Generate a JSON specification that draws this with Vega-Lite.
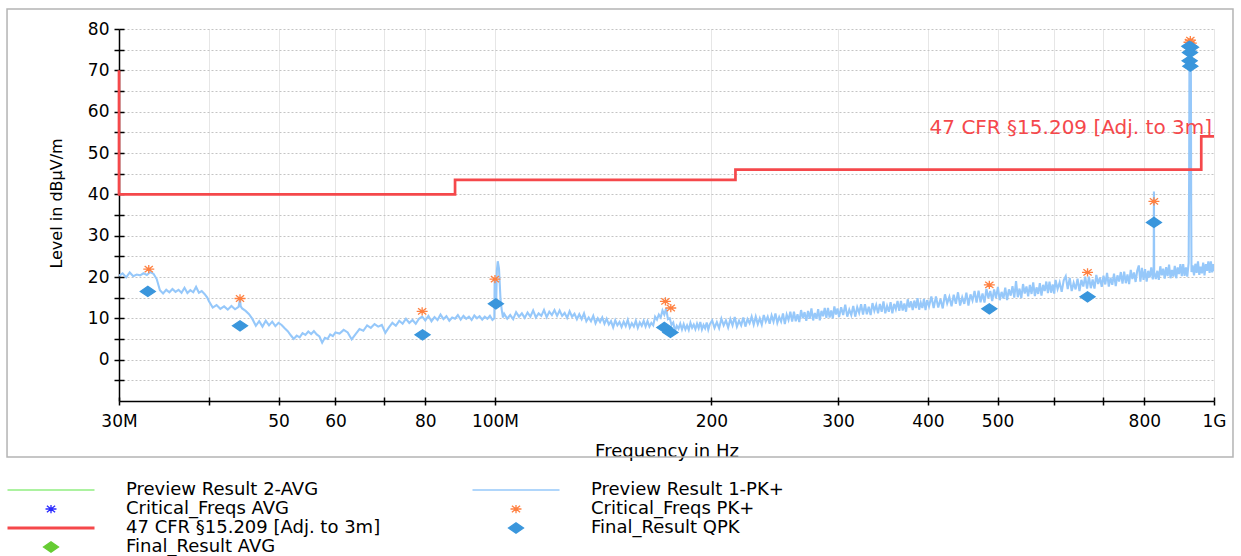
{
"$schema": "https://vega.github.io/schema/vega-lite/v6.json",
"width": 1095, "height": 372,
"autosize": {"type": "none"},
"padding": {"left": 119, "top": 29, "right": 27, "bottom": 155},
"background": "white",
"datasets": {
"trace": [
{"freq":30,"level":20.3},{"freq":30.35,"level":20.9},{"freq":30.7,"level":19.9},{"freq":31.05,"level":21.1},{"freq":31.4,"level":20.2},{"freq":31.75,"level":20.6},{"freq":32.1,"level":20.4},{"freq":32.45,"level":20.9},{"freq":32.8,"level":20.5},{"freq":33.15,"level":21.2},{"freq":33.5,"level":20.8},{"freq":33.85,"level":19.5},{"freq":34.2,"level":16.8},{"freq":34.55,"level":16.0},{"freq":34.9,"level":16.9},{"freq":35.25,"level":16.3},{"freq":35.6,"level":17.1},{"freq":35.95,"level":16.4},{"freq":36.3,"level":16.9},{"freq":36.65,"level":16.2},{"freq":37.0,"level":17.4},{"freq":37.35,"level":16.1},{"freq":37.7,"level":16.8},{"freq":38.05,"level":16.3},{"freq":38.4,"level":17.6},{"freq":38.75,"level":16.2},{"freq":39.1,"level":16.6},{"freq":39.45,"level":15.9},{"freq":39.8,"level":15.0},
{"freq":40.0,"level":14.2},{"freq":40.5,"level":12.6},{"freq":41.0,"level":13.2},{"freq":41.5,"level":12.3},{"freq":42.0,"level":12.9},{"freq":42.5,"level":12.1},{"freq":43.0,"level":13.0},{"freq":43.5,"level":12.2},{"freq":44.0,"level":12.8},{"freq":44.2,"level":14.6},{"freq":44.3,"level":12.9},{"freq":44.5,"level":12.4},{"freq":45.0,"level":11.8},{"freq":45.5,"level":11.0},{"freq":46.0,"level":9.8},{"freq":46.5,"level":8.2},{"freq":47.0,"level":9.3},{"freq":47.5,"level":8.0},{"freq":48.0,"level":9.4},{"freq":48.5,"level":8.3},{"freq":49.0,"level":9.2},{"freq":49.5,"level":8.1},{"freq":50.0,"level":8.9},{"freq":50.5,"level":8.4},{"freq":51.0,"level":7.6},{"freq":51.5,"level":6.9},{"freq":52.0,"level":5.9},{"freq":52.5,"level":5.0},{"freq":53.0,"level":5.8},{"freq":53.5,"level":5.4},{"freq":54.0,"level":6.4},{"freq":54.5,"level":6.0},{"freq":55.0,"level":6.8},{"freq":55.5,"level":6.2},{"freq":56.0,"level":6.9},{"freq":56.5,"level":6.1},{"freq":57.0,"level":5.6},{"freq":57.5,"level":4.1},{"freq":58.0,"level":5.3},{"freq":58.5,"level":5.0},{"freq":59.0,"level":6.1},{"freq":59.5,"level":5.7},{"freq":60.0,"level":6.6},
{"freq":60.8,"level":6.3},{"freq":61.6,"level":7.2},{"freq":62.4,"level":6.6},{"freq":63.2,"level":4.9},{"freq":64.0,"level":6.2},{"freq":64.8,"level":7.4},{"freq":65.6,"level":7.0},{"freq":66.4,"level":8.3},{"freq":67.2,"level":7.7},{"freq":68.0,"level":8.6},{"freq":68.8,"level":8.0},{"freq":69.6,"level":8.4},{"freq":70.4,"level":6.5},{"freq":71.2,"level":7.8},{"freq":72.0,"level":8.9},{"freq":72.8,"level":8.2},{"freq":73.6,"level":9.4},{"freq":74.4,"level":8.7},{"freq":75.2,"level":9.9},{"freq":76.0,"level":8.9},{"freq":76.8,"level":9.6},{"freq":77.6,"level":8.7},{"freq":78.4,"level":9.9},{"freq":79.2,"level":10.4},{"freq":80.0,"level":9.5},{"freq":80.8,"level":10.6},{"freq":81.6,"level":9.3},{"freq":82.4,"level":10.3},{"freq":83.2,"level":9.6},{"freq":84.0,"level":10.9},{"freq":84.8,"level":9.8},{"freq":85.6,"level":10.5},{"freq":86.4,"level":9.4},{"freq":87.2,"level":10.2},{"freq":88.0,"level":9.9},{"freq":88.8,"level":10.8},{"freq":89.6,"level":9.7},{"freq":90.4,"level":10.6},{"freq":91.2,"level":9.9},{"freq":92.0,"level":10.4},{"freq":92.8,"level":9.6},{"freq":93.6,"level":10.7},{"freq":94.4,"level":10.0},{"freq":95.2,"level":10.5},{"freq":96.0,"level":9.7},{"freq":96.8,"level":10.4},{"freq":97.6,"level":9.9},{"freq":98.4,"level":10.6},{"freq":99.2,"level":9.6},
{"freq":99.8,"level":10.0},{"freq":99.9,"level":19.5},{"freq":100.1,"level":13.0},{"freq":100.4,"level":14.0},{"freq":100.6,"level":21.5},{"freq":100.9,"level":23.8},{"freq":101.3,"level":22.0},{"freq":101.8,"level":14.5},{"freq":102.2,"level":12.0},{"freq":102.6,"level":10.2},
{"freq":103,"level":11.1},{"freq":104,"level":9.9},{"freq":105,"level":10.8},{"freq":106,"level":9.8},{"freq":107,"level":11.5},{"freq":108,"level":10.4},{"freq":109,"level":11.2},{"freq":110,"level":10.1},{"freq":111,"level":11.4},{"freq":112,"level":10.4},{"freq":113,"level":11.9},{"freq":114,"level":10.2},{"freq":115,"level":11.2},{"freq":116,"level":10.6},{"freq":117,"level":12.0},{"freq":118,"level":10.3},{"freq":119,"level":11.6},{"freq":120,"level":10.8},{"freq":121,"level":12.0},{"freq":122,"level":10.6},{"freq":123,"level":11.9},{"freq":124,"level":10.6},{"freq":125,"level":11.3},{"freq":126,"level":10.1},{"freq":127,"level":11.7},{"freq":128,"level":10.4},{"freq":129,"level":11.1},{"freq":130,"level":9.8},{"freq":131,"level":11.0},{"freq":132,"level":9.8},{"freq":133,"level":11.2},{"freq":134,"level":9.3},{"freq":135,"level":10.2},{"freq":136,"level":9.3},{"freq":137,"level":10.6},{"freq":138,"level":8.8},{"freq":139,"level":10.0},{"freq":140,"level":9.1},{"freq":141,"level":10.2},{"freq":142,"level":8.7},{"freq":143,"level":9.9},{"freq":144,"level":8.5},{"freq":145,"level":9.3},{"freq":146,"level":7.8},{"freq":147,"level":9.5},{"freq":148,"level":8.3},{"freq":149,"level":9.1},{"freq":150,"level":7.9},{"freq":151,"level":9.2},{"freq":152,"level":8.1},{"freq":153,"level":9.6},{"freq":154,"level":7.8},{"freq":155,"level":8.8},{"freq":156,"level":8.0},{"freq":157,"level":9.4},{"freq":158,"level":7.7},{"freq":159,"level":9.0},{"freq":160,"level":8.2},{"freq":161,"level":9.4},{"freq":162,"level":8.0},{"freq":163,"level":9.3},{"freq":164,"level":8.0},{"freq":165,"level":8.9},{"freq":166,"level":8.3},{"freq":167,"level":10.4},{"freq":168,"level":9.7},{"freq":169,"level":10.9},{"freq":170,"level":10.2},{"freq":171,"level":11.9},{"freq":172,"level":10.9},{"freq":173,"level":12.4},{"freq":174,"level":9.8},{"freq":175,"level":10.0},{"freq":176,"level":8.4},{"freq":177,"level":9.0},{"freq":178,"level":6.9},{"freq":179,"level":8.2},{"freq":180,"level":7.5},{"freq":181,"level":8.7},{"freq":182,"level":7.3},{"freq":183,"level":8.6},{"freq":184,"level":7.3},{"freq":185,"level":8.3},{"freq":186,"level":7.2},{"freq":187,"level":8.9},{"freq":188,"level":7.7},{"freq":189,"level":8.5},{"freq":190,"level":7.4},{"freq":191,"level":8.7},{"freq":192,"level":7.6},{"freq":193,"level":9.1},{"freq":194,"level":7.3},{"freq":195,"level":8.4},{"freq":196,"level":7.6},{"freq":197,"level":9.0},{"freq":198,"level":7.3},{"freq":199,"level":8.6},
{"freq":200.5,"level":9.5},{"freq":202,"level":7.7},{"freq":203.5,"level":9.1},{"freq":205,"level":7.6},{"freq":206.5,"level":9.9},{"freq":208,"level":8.3},{"freq":209.5,"level":9.5},{"freq":211,"level":7.8},{"freq":212.5,"level":9.8},{"freq":214,"level":8.3},{"freq":215.5,"level":10.3},{"freq":217,"level":8.0},{"freq":218.5,"level":9.4},{"freq":220,"level":8.3},{"freq":221.5,"level":10.2},{"freq":223,"level":8.0},{"freq":224.5,"level":9.8},{"freq":226,"level":8.8},{"freq":227.5,"level":10.4},{"freq":229,"level":8.5},{"freq":230.5,"level":10.4},{"freq":232,"level":8.6},{"freq":233.5,"level":10.0},{"freq":235,"level":8.5},{"freq":236.5,"level":10.8},{"freq":238,"level":9.2},{"freq":239.5,"level":10.4},{"freq":241,"level":8.7},{"freq":242.5,"level":10.7},{"freq":244,"level":9.2},{"freq":245.5,"level":11.2},{"freq":247,"level":8.9},{"freq":248.5,"level":10.3},{"freq":250,"level":9.2},{"freq":251.5,"level":11.2},{"freq":253,"level":8.6},{"freq":254.5,"level":10.9},{"freq":256,"level":9.6},{"freq":257.5,"level":11.6},{"freq":259,"level":9.2},{"freq":260.5,"level":11.6},{"freq":262,"level":9.3},{"freq":263.5,"level":11.0},{"freq":265,"level":9.1},{"freq":266.5,"level":12.0},{"freq":268,"level":10.0},{"freq":269.5,"level":11.5},{"freq":271,"level":9.4},{"freq":272.5,"level":11.8},{"freq":274,"level":9.9},{"freq":275.5,"level":12.4},{"freq":277,"level":9.5},{"freq":278.5,"level":11.3},{"freq":280,"level":9.9},{"freq":281.5,"level":12.2},{"freq":283,"level":9.5},{"freq":284.5,"level":11.8},{"freq":286,"level":10.5},{"freq":287.5,"level":12.5},{"freq":289,"level":10.1},{"freq":290.5,"level":12.5},{"freq":292,"level":10.2},{"freq":293.5,"level":11.9},{"freq":295,"level":10.0},{"freq":296.5,"level":12.9},{"freq":298,"level":10.9},{"freq":299.5,"level":12.4},
{"freq":301,"level":10.3},{"freq":303,"level":12.7},{"freq":305,"level":10.8},{"freq":307,"level":13.3},{"freq":309,"level":10.4},{"freq":311,"level":12.1},{"freq":313,"level":10.8},{"freq":315,"level":13.0},{"freq":317,"level":10.4},{"freq":319,"level":12.7},{"freq":321,"level":11.3},{"freq":323,"level":13.4},{"freq":325,"level":10.9},{"freq":327,"level":13.4},{"freq":329,"level":11.0},{"freq":331,"level":12.8},{"freq":333,"level":10.8},{"freq":335,"level":13.7},{"freq":337,"level":11.8},{"freq":339,"level":13.2},{"freq":341,"level":11.2},{"freq":343,"level":13.5},{"freq":345,"level":11.6},{"freq":347,"level":14.1},{"freq":349,"level":11.2},{"freq":351,"level":13.0},{"freq":353,"level":11.6},{"freq":355,"level":13.9},{"freq":357,"level":11.2},{"freq":359,"level":13.5},{"freq":361,"level":12.2},{"freq":363,"level":14.2},{"freq":365,"level":11.8},{"freq":367,"level":14.2},{"freq":369,"level":11.9},{"freq":371,"level":13.6},{"freq":373,"level":11.6},{"freq":375,"level":14.6},{"freq":377,"level":12.6},{"freq":379,"level":14.1},{"freq":381,"level":12.0},{"freq":383,"level":14.3},{"freq":385,"level":12.5},{"freq":387,"level":14.9},{"freq":389,"level":12.1},{"freq":391,"level":13.8},{"freq":393,"level":12.5},{"freq":395,"level":14.7},{"freq":397,"level":12.0},{"freq":399,"level":14.4},
{"freq":401.5,"level":12.9},{"freq":404.5,"level":15.3},{"freq":407.5,"level":12.5},{"freq":410.5,"level":15.3},{"freq":413.5,"level":12.6},{"freq":416.5,"level":14.7},{"freq":419.5,"level":12.4},{"freq":422.5,"level":15.8},{"freq":425.5,"level":13.6},{"freq":428.5,"level":15.2},{"freq":431.5,"level":12.9},{"freq":434.5,"level":15.7},{"freq":437.5,"level":13.5},{"freq":440.5,"level":16.3},{"freq":443.5,"level":13.1},{"freq":446.5,"level":15.1},{"freq":449.5,"level":13.5},{"freq":452.5,"level":16.2},{"freq":455.5,"level":13.1},{"freq":458.5,"level":15.8},{"freq":461.5,"level":14.3},{"freq":464.5,"level":16.6},{"freq":467.5,"level":13.8},{"freq":470.5,"level":16.7},{"freq":473.5,"level":13.9},{"freq":476.5,"level":16.0},{"freq":479.5,"level":13.8},{"freq":482.5,"level":17.1},{"freq":485.5,"level":14.9},{"freq":488.5,"level":16.6},{"freq":491.5,"level":14.2},{"freq":494.5,"level":17.0},{"freq":497.5,"level":14.9},{"freq":500.5,"level":17.6},{"freq":503.5,"level":14.4},{"freq":506.5,"level":16.4},{"freq":509.5,"level":14.8},{"freq":512.5,"level":17.4},{"freq":515.5,"level":14.4},{"freq":518.5,"level":17.0},{"freq":521.5,"level":15.5},{"freq":524.5,"level":17.8},{"freq":527.5,"level":15.0},{"freq":530.5,"level":19.0},{"freq":533.5,"level":15.1},{"freq":536.5,"level":17.2},{"freq":539.5,"level":14.9},{"freq":542.5,"level":18.3},{"freq":545.5,"level":16.0},{"freq":548.5,"level":17.7},{"freq":551.5,"level":15.3},{"freq":554.5,"level":18.1},{"freq":557.5,"level":15.9},{"freq":560.5,"level":18.7},{"freq":563.5,"level":15.4},{"freq":566.5,"level":17.5},{"freq":569.5,"level":15.9},{"freq":572.5,"level":18.5},{"freq":575.5,"level":15.5},{"freq":578.5,"level":18.1},{"freq":581.5,"level":16.6},{"freq":584.5,"level":18.9},{"freq":587.5,"level":16.1},{"freq":590.5,"level":18.9},{"freq":593.5,"level":16.2},{"freq":596.5,"level":18.2},{"freq":599.5,"level":16.0},
{"freq":602,"level":19.3},{"freq":606,"level":17.1},{"freq":610,"level":18.7},{"freq":614,"level":16.4},{"freq":618,"level":19.2},{"freq":622,"level":20.2},{"freq":626,"level":17.1},{"freq":630,"level":19.8},{"freq":634,"level":16.6},{"freq":638,"level":18.6},{"freq":642,"level":17.0},{"freq":646,"level":19.6},{"freq":650,"level":16.6},{"freq":654,"level":19.3},{"freq":658,"level":17.7},{"freq":662,"level":20.1},{"freq":666,"level":17.2},{"freq":670,"level":20.1},{"freq":674,"level":17.3},{"freq":678,"level":19.4},{"freq":682,"level":17.2},{"freq":686,"level":20.5},{"freq":690,"level":18.3},{"freq":694,"level":19.9},{"freq":698,"level":17.6},
{"freq":702,"level":20.3},{"freq":706,"level":18.2},{"freq":710,"level":21.0},{"freq":714,"level":17.7},{"freq":718,"level":19.8},{"freq":722,"level":18.1},{"freq":726,"level":20.8},{"freq":730,"level":17.8},{"freq":734,"level":20.4},{"freq":738,"level":18.9},{"freq":742,"level":21.2},{"freq":746,"level":18.4},{"freq":750,"level":21.3},{"freq":754,"level":18.5},{"freq":758,"level":20.6},{"freq":762,"level":18.3},{"freq":766,"level":21.7},{"freq":770,"level":19.5},{"freq":774,"level":21.1},{"freq":778,"level":18.8},{"freq":782,"level":21.5},{"freq":786,"level":22.8},{"freq":790,"level":18.9},{"freq":794,"level":22.2},{"freq":798,"level":19.3},
{"freq":802,"level":21.9},{"freq":806,"level":18.9},{"freq":810,"level":21.5},{"freq":814,"level":19.9},{"freq":818,"level":22.3},{"freq":822,"level":19.4},{"freq":824.3,"level":21.8},{"freq":825,"level":40.7},{"freq":825.7,"level":21.2},{"freq":830,"level":19.5},{"freq":834,"level":21.5},{"freq":838,"level":19.3},{"freq":842,"level":22.6},{"freq":846,"level":20.4},{"freq":850,"level":22.0},{"freq":854,"level":19.6},{"freq":858,"level":22.4},{"freq":862,"level":20.2},{"freq":866,"level":23.0},{"freq":870,"level":19.7},{"freq":874,"level":21.7},{"freq":878,"level":20.1},{"freq":882,"level":22.7},{"freq":886,"level":19.7},{"freq":890,"level":22.3},{"freq":894,"level":20.7},{"freq":898,"level":23.1},
{"freq":902,"level":20.2},{"freq":906,"level":23.1},{"freq":910,"level":20.3},{"freq":914,"level":22.3},{"freq":918,"level":20.1},{"freq":922,"level":23.4},{"freq":923.5,"level":45.0},{"freq":924.5,"level":76.4},{"freq":925.5,"level":70.5},{"freq":926.5,"level":77.4},{"freq":927.5,"level":73.0},{"freq":928.5,"level":76.6},{"freq":929.5,"level":38.0},{"freq":930.5,"level":21.2},{"freq":934,"level":22.8},{"freq":938,"level":20.4},{"freq":942,"level":23.2},{"freq":946,"level":21.0},{"freq":950,"level":23.8},{"freq":954,"level":20.5},{"freq":958,"level":22.5},{"freq":962,"level":20.9},{"freq":966,"level":23.5},{"freq":970,"level":20.4},{"freq":974,"level":23.1},{"freq":978,"level":21.5},{"freq":982,"level":23.8},{"freq":986,"level":21.0},{"freq":990,"level":23.8},{"freq":994,"level":21.1},{"freq":998,"level":23.1},{"freq":1000,"level":21.4}
],
"limit": [
{"series":"47 CFR §15.209 [Adj. to 3m]","idx":1,"freq":30,"level":70},
{"series":"47 CFR §15.209 [Adj. to 3m]","idx":2,"freq":30,"level":40},
{"series":"47 CFR §15.209 [Adj. to 3m]","idx":3,"freq":88,"level":40},
{"series":"47 CFR §15.209 [Adj. to 3m]","idx":4,"freq":88,"level":43.5},
{"series":"47 CFR §15.209 [Adj. to 3m]","idx":5,"freq":216,"level":43.5},
{"series":"47 CFR §15.209 [Adj. to 3m]","idx":6,"freq":216,"level":46},
{"series":"47 CFR §15.209 [Adj. to 3m]","idx":7,"freq":960,"level":46},
{"series":"47 CFR §15.209 [Adj. to 3m]","idx":8,"freq":960,"level":54},
{"series":"47 CFR §15.209 [Adj. to 3m]","idx":9,"freq":1000,"level":54}
],
"points": [
{"series":"Critical_Freqs PK+","freq":33.0,"level":21.9},
{"series":"Critical_Freqs PK+","freq":44.2,"level":14.8},
{"series":"Critical_Freqs PK+","freq":79.2,"level":11.7},
{"series":"Critical_Freqs PK+","freq":100.0,"level":19.5},
{"series":"Critical_Freqs PK+","freq":172.6,"level":14.1},
{"series":"Critical_Freqs PK+","freq":175.6,"level":12.5},
{"series":"Critical_Freqs PK+","freq":487,"level":18.1},
{"series":"Critical_Freqs PK+","freq":667,"level":21.1},
{"series":"Critical_Freqs PK+","freq":825,"level":38.3},
{"series":"Critical_Freqs PK+","freq":923,"level":76.8},
{"series":"Critical_Freqs PK+","freq":927,"level":77.3},
{"series":"Critical_Freqs PK+","freq":930,"level":76.6},
{"series":"Final_Result QPK","freq":32.9,"level":16.5},
{"series":"Final_Result QPK","freq":44.2,"level":8.2},
{"series":"Final_Result QPK","freq":79.3,"level":6.0},
{"series":"Final_Result QPK","freq":100.3,"level":13.5},
{"series":"Final_Result QPK","freq":172.0,"level":7.8},
{"series":"Final_Result QPK","freq":175.4,"level":6.6},
{"series":"Final_Result QPK","freq":487,"level":12.3},
{"series":"Final_Result QPK","freq":667,"level":15.2},
{"series":"Final_Result QPK","freq":825,"level":33.2},
{"series":"Final_Result QPK","freq":924,"level":75.8},
{"series":"Final_Result QPK","freq":929,"level":75.6},
{"series":"Final_Result QPK","freq":926,"level":74.3},
{"series":"Final_Result QPK","freq":925,"level":72.3},
{"series":"Final_Result QPK","freq":927,"level":71.0}
]
},
"layer": [
{
"data": {"values": [{"frame": "border"}]},
"mark": {"type": "rect", "fill": "transparent", "stroke": "#b4b4b4", "strokeWidth": 1.5},
"encoding": {
"x": {"datum": 20.96, "type": "quantitative", "scale": {"type": "log", "domain": [30, 1000], "nice": false}, "axis": null},
"x2": {"datum": 1062.7},
"y": {"datum": 84.84, "type": "quantitative", "scale": {"domain": [-10, 80], "nice": false, "zero": false}, "axis": null},
"y2": {"datum": -23.55}
}
},
{
"data": {"name": "trace"},
"mark": {"type": "line", "color": "#96c8fa", "strokeWidth": 2.1, "clip": true},
"encoding": {
"x": {"field": "freq", "type": "quantitative", "scale": {"type": "log", "domain": [30, 1000], "nice": false},
  "axis": {"orient": "bottom", "values": [30,40,50,60,70,80,100,200,300,400,500,600,700,800,1000],
   "labelExpr": "datum.value==30?'30M':datum.value==100?'100M':datum.value==1000?'1G':(datum.value==40||datum.value==70||datum.value==600||datum.value==700)?'':''+datum.value",
   "labelOverlap": false, "labelFlush": false, "labelBound": false, "labelFontSize": 17, "labelFont": "DejaVu Sans", "labelColor": "black", "labelPadding": 8, "labelBaseline": "top",
   "tickSize": 4, "tickColor": "black", "tickWidth": 1.5, "domainColor": "black", "domainWidth": 1.5,
   "grid": true, "gridColor": "#cdcdcd", "gridDash": [1,1], "gridWidth": 1,
   "title": "Frequency in Hz", "titleFont": "DejaVu Sans", "titleFontSize": 18, "titleFontWeight": "normal", "titleColor": "black", "titleBaseline": "alphabetic", "titleY": 55}},
"y": {"field": "level", "type": "quantitative", "scale": {"domain": [-10, 80], "nice": false, "zero": false},
  "axis": {"orient": "left", "values": [-5,0,5,10,15,20,25,30,35,40,45,50,55,60,65,70,75,80],
   "labelExpr": "datum.value>=0&&datum.value%10==0?''+datum.value:''",
   "labelFontSize": 17, "labelFont": "DejaVu Sans", "labelColor": "black", "labelPadding": 5,
   "tickSize": 5, "tickColor": "black", "tickWidth": 1.5, "domainColor": "black", "domainWidth": 1.5,
   "grid": true, "gridColor": "#c4c4c4", "gridDash": [2,2], "gridWidth": 1,
   "title": "Level in dBµV/m", "titleFont": "DejaVu Sans", "titleFontSize": 16, "titleFontWeight": "normal", "titleColor": "black",
   "titleAngle": 270, "titleAlign": "center", "titleBaseline": "middle", "titleX": -63, "titleY": 174}}
}
},
{
"data": {"name": "limit"},
"mark": {"type": "line", "color": "#f5484b", "strokeWidth": 2.7},
"encoding": {
"x": {"field": "freq", "type": "quantitative", "scale": {"type": "log", "domain": [30, 1000], "nice": false},
  "axis": {"orient": "bottom", "values": [30,40,50,60,70,80,100,200,300,400,500,600,700,800,1000], "labels": false, "domain": false, "grid": false, "tickSize": -4, "tickColor": "black", "tickWidth": 1.5, "title": null}},
"y": {"field": "level", "type": "quantitative", "scale": {"domain": [-10, 80], "nice": false, "zero": false},
  "axis": {"orient": "left", "values": [-5,0,5,10,15,20,25,30,35,40,45,50,55,60,65,70,75,80], "labels": false, "domain": false, "grid": false, "tickSize": -5, "tickColor": "black", "tickWidth": 1.5, "title": null}},
"order": {"field": "idx", "type": "quantitative"}
}
},
{
"data": {"name": "limit"},
"transform": [{"filter": "datum.idx == 9"}],
"mark": {"type": "text", "align": "right", "baseline": "alphabetic", "dx": -2, "dy": -2, "fontSize": 20, "font": "DejaVu Sans", "color": "#f5484b"},
"encoding": {
"x": {"field": "freq", "type": "quantitative", "scale": {"type": "log", "domain": [30, 1000], "nice": false}, "axis": null},
"y": {"field": "level", "type": "quantitative", "scale": {"domain": [-10, 80], "nice": false, "zero": false}, "axis": null},
"text": {"field": "series"}
}
},
{
"data": {"name": "points"},
"mark": {"type": "point", "filled": true, "size": 225, "strokeWidth": 1.3, "opacity": 1},
"encoding": {
"x": {"field": "freq", "type": "quantitative", "scale": {"type": "log", "domain": [30, 1000], "nice": false}, "axis": null},
"y": {"field": "level", "type": "quantitative", "scale": {"domain": [-10, 80], "nice": false, "zero": false}, "axis": null},
"color": {"field": "series", "type": "nominal",
  "scale": {"domain": ["Preview Result 2-AVG","Preview Result 1-PK+","Critical_Freqs AVG","Critical_Freqs PK+","47 CFR §15.209 [Adj. to 3m]","Final_Result QPK","Final_Result AVG"],
            "range": ["#90ee80","#96c8fa","#2a2aff","#ff8040","#f5484b","#3a96dc","#66cc33"]},
  "legend": {"orient": "none", "direction": "horizontal", "legendX": -77, "legendY": 452, "columns": 2, "columnPadding": 88, "rowPadding": 1, "padding": 0, "title": null,
    "labelFontSize": 18, "labelFont": "DejaVu Sans", "labelColor": "black", "labelLimit": 600, "labelOffset": 66, "symbolSize": 225, "symbolStrokeWidth": 1.3, "symbolOpacity": 1,
    "encode": {"symbols": {"update": {"stroke": {"scale": "color", "field": "value"}, "strokeWidth": {"signal": "datum.value=='47 CFR §15.209 [Adj. to 3m]'?3:1.3"}}}}}},
"shape": {"field": "series", "type": "nominal",
  "scale": {"domain": ["Preview Result 2-AVG","Preview Result 1-PK+","Critical_Freqs AVG","Critical_Freqs PK+","47 CFR §15.209 [Adj. to 3m]","Final_Result QPK","Final_Result AVG"],
            "range": ["M-5.8,0H5.8","M-5.8,0H5.8","M-0.73,0H0.73M0,-0.55V0.55M-0.55,-0.42L0.55,0.42M-0.55,0.42L0.55,-0.42","M-0.73,0H0.73M0,-0.55V0.55M-0.55,-0.42L0.55,0.42M-0.55,0.42L0.55,-0.42","M-5.8,0H5.8","M-1,0L0,-0.68L1,0L0,0.68Z","M-1,0L0,-0.68L1,0L0,0.68Z"]},
  "legend": {"orient": "none", "direction": "horizontal", "legendX": -77, "legendY": 452, "columns": 2, "columnPadding": 88, "rowPadding": 1, "padding": 0, "title": null,
    "labelFontSize": 18, "labelFont": "DejaVu Sans", "labelColor": "black", "labelLimit": 600, "labelOffset": 66, "symbolSize": 225, "symbolStrokeWidth": 1.3, "symbolOpacity": 1,
    "encode": {"symbols": {"update": {"stroke": {"scale": "color", "field": "value"}, "strokeWidth": {"signal": "datum.value=='47 CFR §15.209 [Adj. to 3m]'?3:1.3"}}}}}},
"stroke": {"field": "series", "type": "nominal",
  "scale": {"domain": ["Preview Result 2-AVG","Preview Result 1-PK+","Critical_Freqs AVG","Critical_Freqs PK+","47 CFR §15.209 [Adj. to 3m]","Final_Result QPK","Final_Result AVG"],
            "range": ["#90ee80","#96c8fa","#2a2aff","#ff8040","#f5484b","#3a96dc","#66cc33"]},
  "legend": null}
}
}
],
"resolve": {"axis": {"x": "independent", "y": "independent"}},
"config": {"view": {"stroke": null}, "font": "DejaVu Sans"}
}
